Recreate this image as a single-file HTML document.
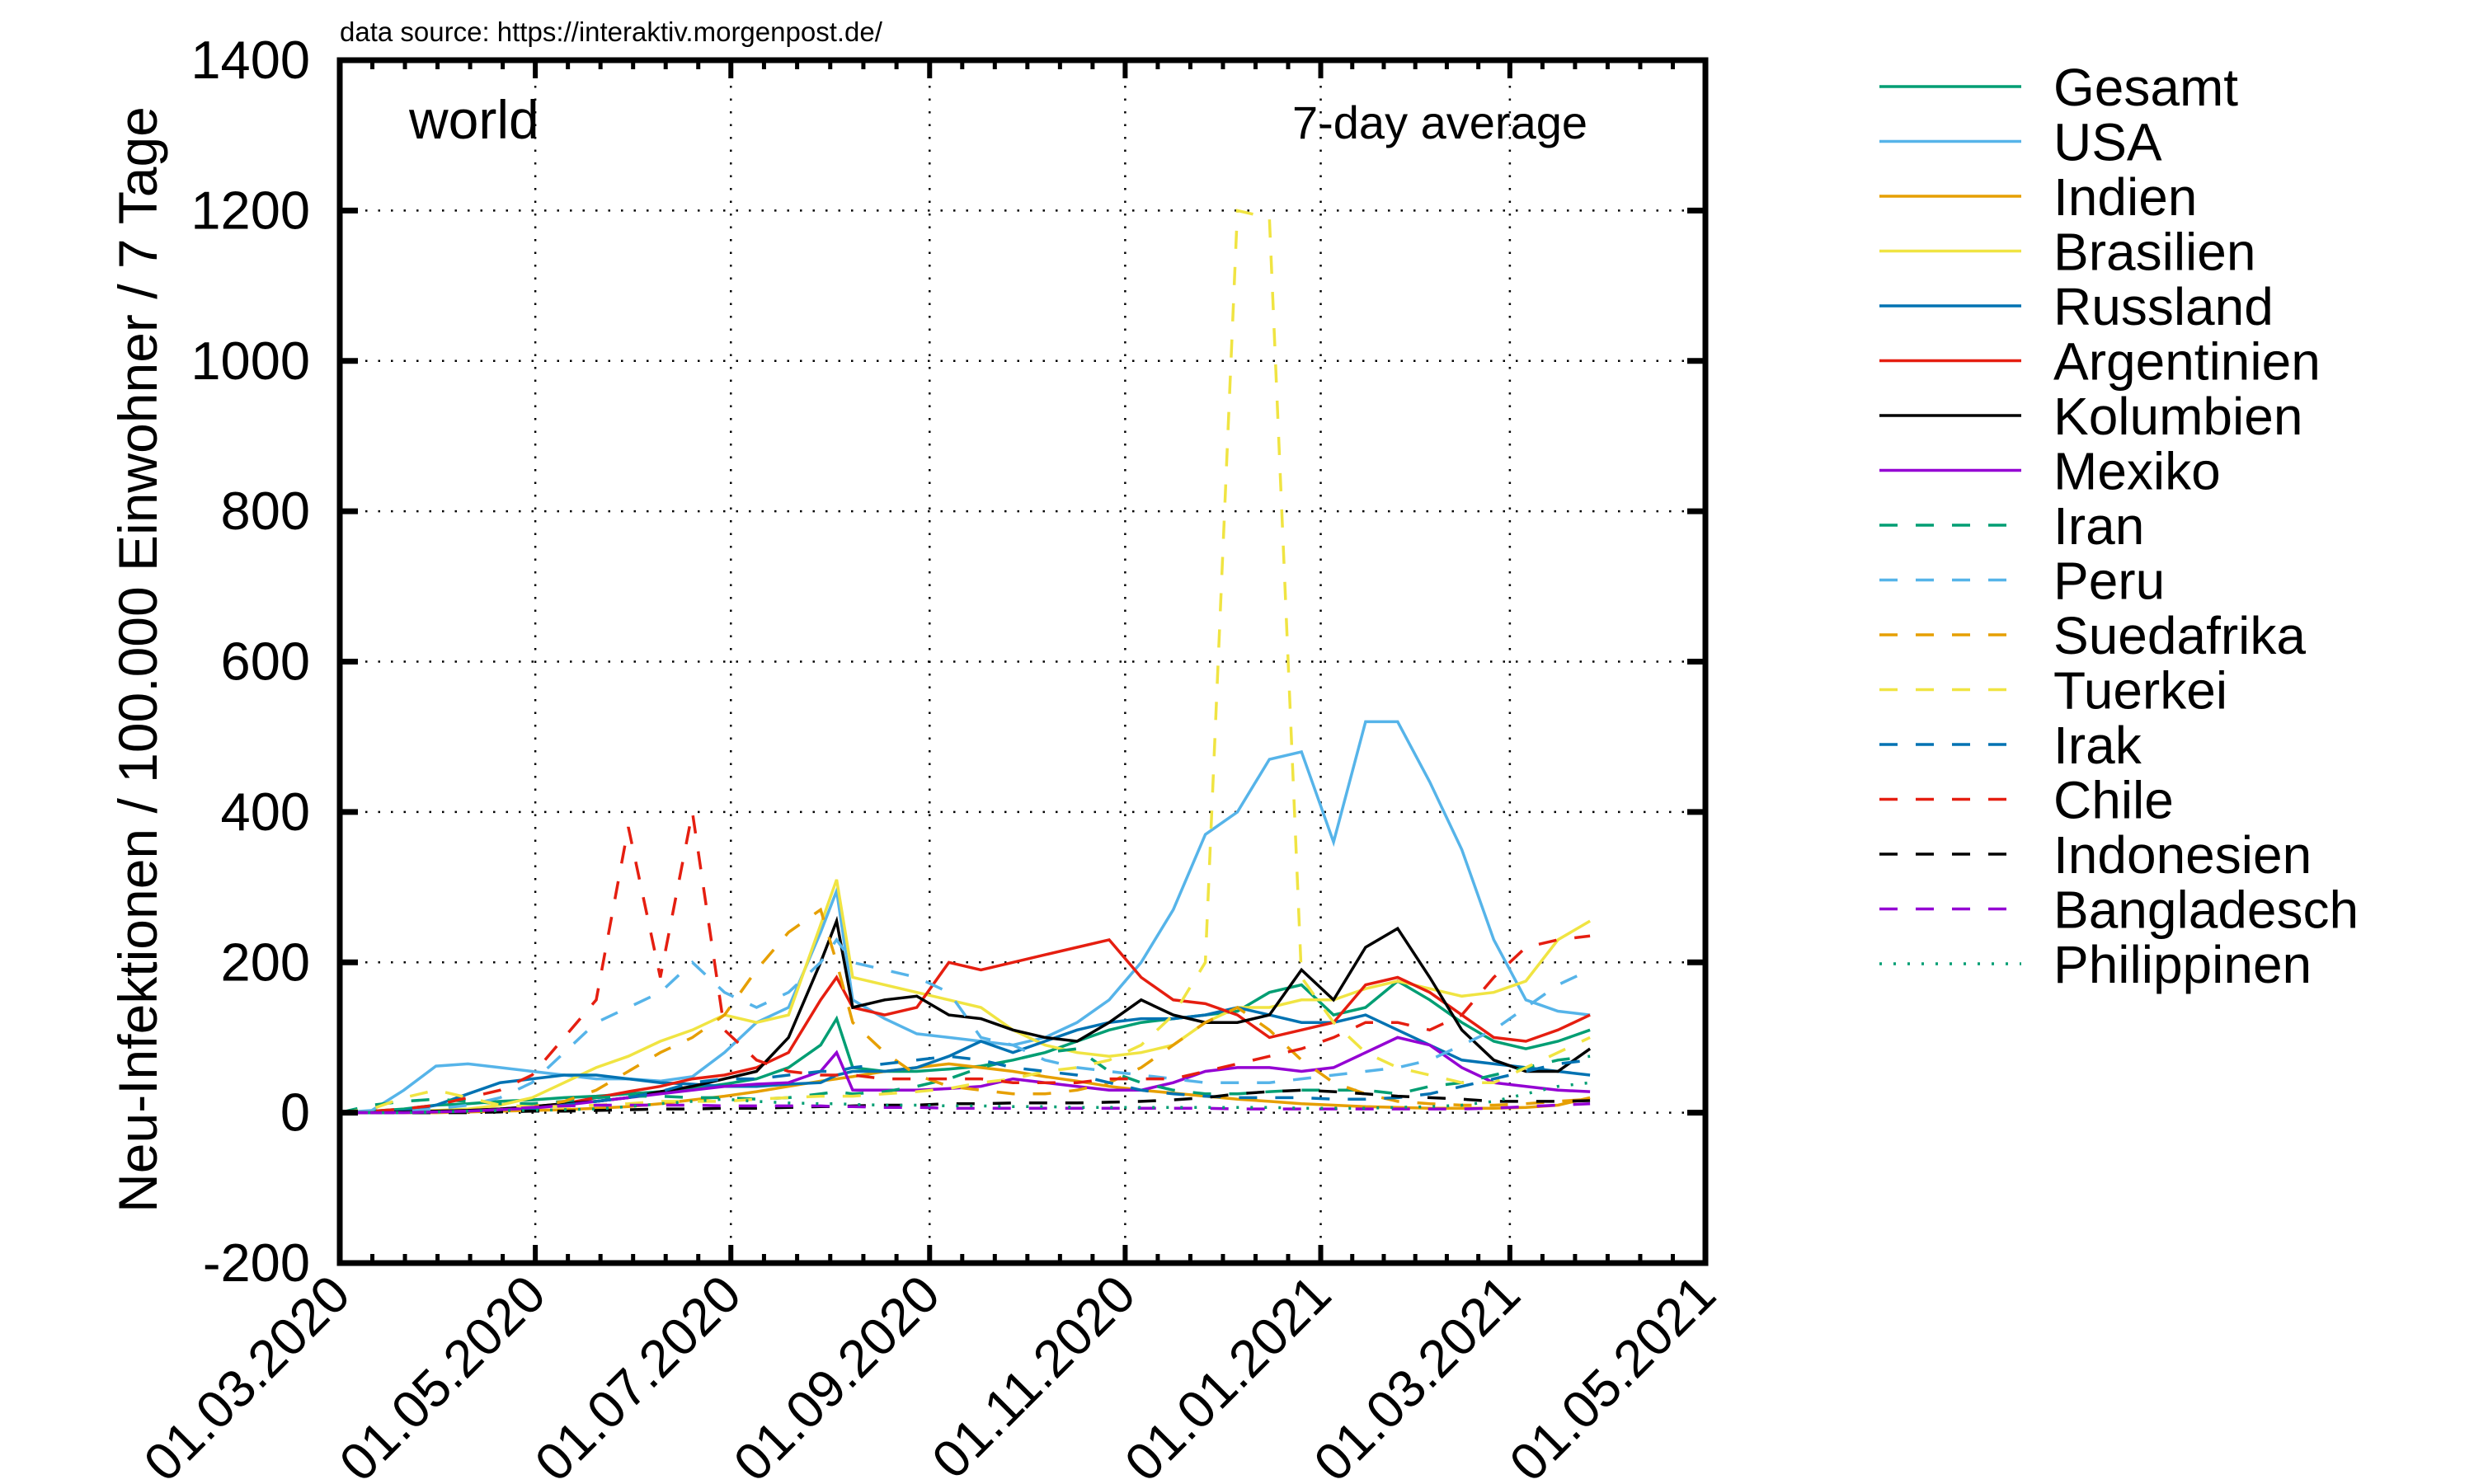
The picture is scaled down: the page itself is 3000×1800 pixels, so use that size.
<!DOCTYPE html>
<html><head><meta charset="utf-8"><style>
html,body{margin:0;padding:0;background:#fff}
svg{display:block;font-family:"Liberation Sans",sans-serif}
</style></head><body>
<svg id="chart" width="3000" height="1800" viewBox="0 0 3000 1800" xmlns="http://www.w3.org/2000/svg">
<g id="grid"></g>
<g id="series"></g>
<g id="axes"></g>
<g id="legend"></g>
<text x="412" y="50" font-size="33">data source: https://interaktiv.morgenpost.de/</text>
<text x="496" y="168" font-size="66">world</text>
<text x="1925" y="168" font-size="56" text-anchor="end">7-day average</text>
<text transform="translate(190,800) rotate(-90)" font-size="66" text-anchor="middle">Neu-Infektionen / 100.000 Einwohner / 7 Tage</text>
</svg>
<script>
const days=[0,10,20,30,40,50,60,70,80,90,100,110,120,130,140,150,155,160,170,180,190,200,210,220,230,240,250,260,270,280,290,300,310,320,330,340,350,360,370,380,390];
const names=["Gesamt","USA","Indien","Brasilien","Russland","Argentinien","Kolumbien","Mexiko","Iran","Peru","Suedafrika","Tuerkei","Irak","Chile","Indonesien","Bangladesch","Philippinen"];
const vGesamt=[0,2,5,10,12,15,17,20,22,25,28,32,38,45,60,90,125,60,55,55,58,62,70,80,95,110,120,125,130,135,160,170,130,140,175,150,120,95,85,95,110];
const vUSA=[0,3,30,62,65,60,55,50,45,45,42,48,80,120,140,240,295,150,125,105,100,95,90,100,120,150,200,270,370,400,470,480,360,520,520,440,350,230,150,135,130];
const vIndien=[0,0,0,0,1,2,3,4,6,8,12,17,22,28,35,42,45,48,55,60,65,60,55,48,42,35,30,26,22,18,15,12,10,8,7,6,6,6,7,10,20];
const vBrasilien=[0,0,1,3,5,10,20,40,60,75,95,110,130,120,130,250,310,180,170,160,150,140,110,90,80,75,80,90,120,140,140,150,150,165,175,165,155,160,175,230,255];
const vRussland=[0,0,2,10,25,40,45,50,50,45,40,38,35,35,38,40,50,55,55,60,75,95,80,95,110,120,125,125,130,140,130,120,120,130,110,90,70,65,60,55,50];
const vArgentinien=[0,0,1,2,3,5,8,12,20,28,35,45,50,60,80,150,180,140,130,140,200,190,200,210,220,230,180,150,145,130,100,110,120,170,180,160,130,100,95,110,130];
const vKolumbien=[0,0,1,2,3,5,8,12,15,20,28,35,45,55,100,200,255,140,150,155,130,125,110,100,95,120,150,130,120,120,130,190,150,220,245,180,110,70,55,55,85];
const vMexiko=[0,0,0,1,2,4,6,10,15,20,25,30,35,38,40,55,80,30,30,30,32,35,45,40,35,30,30,40,55,60,60,55,60,80,100,90,60,40,35,30,28];
const vIran=[0,10,15,18,15,12,12,15,20,22,22,20,20,18,20,25,28,25,28,35,45,60,70,80,85,55,40,30,25,25,28,30,30,30,25,35,40,50,60,70,75];
const vPeru=[0,0,2,5,10,20,40,80,120,140,160,200,160,140,160,200,230,200,190,180,160,100,90,70,60,55,50,45,40,40,40,45,50,55,60,70,90,110,140,170,190];
const vSuedafrika=[0,0,0,1,2,4,8,15,30,55,80,100,130,190,240,270,200,120,80,50,35,30,25,25,30,40,60,90,120,140,110,70,40,25,15,12,10,10,12,15,18];
const vTuerkei=[0,5,20,30,20,10,8,8,10,12,15,15,15,18,20,22,22,22,25,28,32,40,45,55,60,70,90,130,200,1200,1190,180,120,80,60,50,40,40,60,80,100];
const vIrak=[0,0,0,0,1,2,5,10,15,20,28,40,45,45,50,55,55,60,65,70,75,70,60,55,50,40,30,25,22,20,20,20,18,18,20,25,35,45,55,65,70];
const vChile=[0,2,5,10,20,30,50,100,150,380,180,400,110,70,55,50,50,50,45,45,45,45,40,40,40,45,45,45,55,65,75,85,100,120,120,110,130,180,220,230,235];
const vIndonesien=[0,0,0,0,0,1,2,2,3,4,5,5,6,6,7,8,8,9,10,10,12,12,13,13,13,14,15,17,20,25,28,30,28,25,22,20,18,15,15,15,16];
const vBangladesch=[0,0,0,1,2,4,7,9,10,10,10,10,9,9,9,9,8,8,7,7,6,6,6,6,6,6,6,6,6,5,5,5,5,5,5,5,5,6,8,10,12];
const vPhilippinen=[0,0,0,1,2,3,3,4,5,8,12,15,18,15,13,12,12,11,10,10,9,9,8,8,7,7,7,7,7,7,7,6,6,6,7,8,10,15,25,35,40];
const yTicks=[-200,0,200,400,600,800,1000,1200,1400];
const xTickDays=[0,61,122,184,245,306,365,426];
const xTickLabels=["01.03.2020","01.05.2020","01.07.2020","01.09.2020","01.11.2020","01.01.2021","01.03.2021","01.05.2021"];

const L=412,R=2068,T=73,B=1532,D0=0,D1=426,Y0=-200,Y1=1400;
const xs=d=>L+(d-D0)/(D1-D0)*(R-L);
const ys=v=>B-(v-Y0)/(Y1-Y0)*(B-T);
const NS="http://www.w3.org/2000/svg";
function mk(tag,parent){const e=document.createElementNS(NS,tag);parent.appendChild(e);return e;}
const grid=document.getElementById('grid'),axes=document.getElementById('axes'),ser=document.getElementById('series'),leg=document.getElementById('legend');
const colors=["#009e73","#56b4e9","#e69f00","#f0e442","#0072b2","#e51e10","#000000","#9400d3"];
const allVals=[vGesamt,vUSA,vIndien,vBrasilien,vRussland,vArgentinien,vKolumbien,vMexiko,vIran,vPeru,vSuedafrika,vTuerkei,vIrak,vChile,vIndonesien,vBangladesch,vPhilippinen];
function styleFor(i){const c=colors[i%8];const dash=i<8?null:(i<16?"22,22":"3,14");return {c,dash};}

yTicks.forEach(v=>{if(v===Y0||v===Y1)return;const l=mk('line',grid);


l.setAttribute('x1',L);l.setAttribute('x2',R);l.setAttribute('y1',ys(v));l.setAttribute('y2',ys(v));l.setAttribute('stroke','#000');l.setAttribute('stroke-width','2.5');l.setAttribute('stroke-dasharray','2.5,13');});
xTickDays.forEach(d=>{if(d===D0||d===D1)return;const l=mk('line',grid);


l.setAttribute('x1',xs(d));l.setAttribute('x2',xs(d));l.setAttribute('y1',T);l.setAttribute('y2',B);l.setAttribute('stroke','#000');l.setAttribute('stroke-width','2.5');l.setAttribute('stroke-dasharray','2.5,13');});

allVals.forEach((vals,i)=>{const s=styleFor(i);const p=mk('polyline',ser);


p.setAttribute('points',vals.map((v,k)=>xs(days[k]).toFixed(1)+','+ys(v).toFixed(1)).join(' '));
p.setAttribute('fill','none');p.setAttribute('stroke',s.c);p.setAttribute('stroke-width','3.5');if(s.dash)p.setAttribute('stroke-dasharray',s.dash);});

const fr=mk('rect',axes);


fr.setAttribute('x',L);fr.setAttribute('y',T);fr.setAttribute('width',R-L);fr.setAttribute('height',B-T);fr.setAttribute('fill','none');fr.setAttribute('stroke','#000');fr.setAttribute('stroke-width','7');
yTicks.forEach(v=>{[[L,L+22],[R,R-22]].forEach(([a,b])=>{const l=mk('line',axes);


l.setAttribute('x1',a);l.setAttribute('x2',b);l.setAttribute('y1',ys(v));l.setAttribute('y2',ys(v));l.setAttribute('stroke','#000');l.setAttribute('stroke-width','7');});
const t=mk('text',axes);


t.setAttribute('x',L-36);t.setAttribute('y',ys(v)+22);t.setAttribute('text-anchor','end');t.setAttribute('font-size','65');t.textContent=v;});
for(let k=0;k<xTickDays.length-1;k++){const a=xTickDays[k],b=xTickDays[k+1];for(let j=1;j<6;j++){const d=a+(b-a)*j/6;[[B,B-11],[T,T+11]].forEach(([p,q])=>{const l=mk('line',axes);


l.setAttribute('x1',xs(d));l.setAttribute('x2',xs(d));l.setAttribute('y1',p);l.setAttribute('y2',q);l.setAttribute('stroke','#000');l.setAttribute('stroke-width','5');});}}
xTickDays.forEach((d,k)=>{[[B,B-22],[T,T+22]].forEach(([p,q])=>{const l=mk('line',axes);


l.setAttribute('x1',xs(d));l.setAttribute('x2',xs(d));l.setAttribute('y1',p);l.setAttribute('y2',q);l.setAttribute('stroke','#000');l.setAttribute('stroke-width','6');});
const t=mk('text',axes);


const x=xs(d)+16,y=B+42;t.setAttribute('transform','translate('+x+','+y+') rotate(-45)');t.setAttribute('text-anchor','end');t.setAttribute('font-size','64');t.textContent=xTickLabels[k];});

names.forEach((n,i)=>{const s=styleFor(i);const y=105+i*66.5;const l=mk('line',leg);


l.setAttribute('x1',2279);l.setAttribute('x2',2451);l.setAttribute('y1',y);l.setAttribute('y2',y);l.setAttribute('stroke',s.c);l.setAttribute('stroke-width','3.5');if(s.dash)l.setAttribute('stroke-dasharray',s.dash);
const t=mk('text',leg);


t.setAttribute('x',2490);t.setAttribute('y',y+23);t.setAttribute('font-size','64');t.textContent=n;});
</script>
</body></html>
